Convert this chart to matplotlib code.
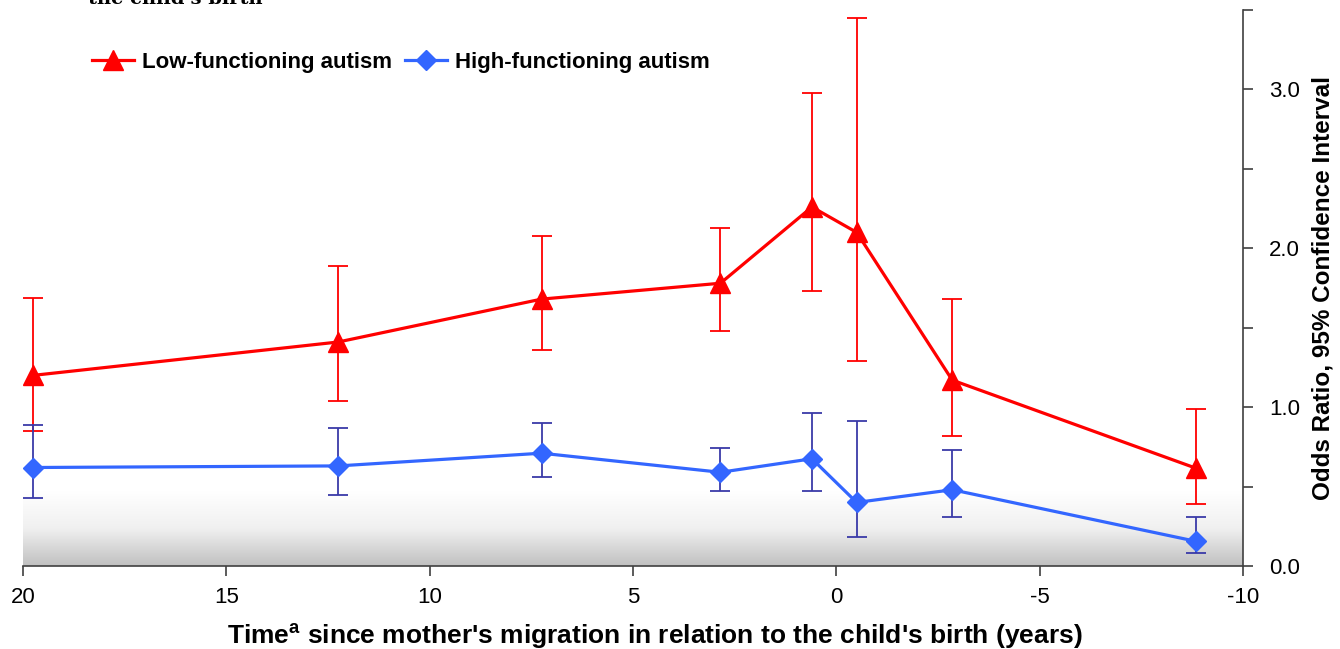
import matplotlib
matplotlib.use("Agg")
import matplotlib.pyplot as plt
import numpy as np
from matplotlib.ticker import MultipleLocator, FormatStrFormatter

plt.rcParams['font.family'] = ['Liberation Sans', 'DejaVu Sans']
plt.rcParams['mathtext.fontset'] = 'custom'
plt.rcParams['mathtext.rm'] = 'Liberation Sans'
plt.rcParams['mathtext.bf'] = 'Liberation Sans:bold'
plt.rcParams['axes.unicode_minus'] = False

# years since migration (positive = before birth)
years = [19.75, 12.25, 7.25, 2.85, 0.6, -0.5, -2.85, -8.85]

low_or = [1.20, 1.41, 1.68, 1.78, 2.26, 2.10, 1.17, 0.615]
low_lo = [0.85, 1.04, 1.36, 1.48, 1.73, 1.29, 0.82, 0.39]
low_hi = [1.69, 1.89, 2.08, 2.13, 2.98, 3.45, 1.68, 0.99]

high_or = [0.62, 0.63, 0.71, 0.59, 0.675, 0.40, 0.48, 0.155]
high_lo = [0.43, 0.45, 0.56, 0.47, 0.47, 0.18, 0.31, 0.08]
high_hi = [0.89, 0.87, 0.90, 0.74, 0.96, 0.91, 0.73, 0.31]

fig = plt.figure(figsize=(13.4, 6.49), dpi=100)
ax = fig.add_axes([0.0172, 0.1279, 0.9104, 0.8567])

# grey gradient at the bottom of the plot area
grad = np.linspace(0, 1, 256).reshape(-1, 1)
cmap = matplotlib.colors.LinearSegmentedColormap.from_list('g', ['#c0c0c0', '#f0f0f0', '#ffffff'])
ax.imshow(grad, extent=[20, -10, 0, 0.47], origin='lower', aspect='auto',
          cmap=cmap, zorder=0)

def err(v, lo, hi):
    v, lo, hi = np.array(v), np.array(lo), np.array(hi)
    return [v - lo, hi - v]

ax.errorbar(years, low_or, yerr=err(low_or, low_lo, low_hi), fmt='none',
            ecolor='#ff0000', elinewidth=1.3, capsize=7, capthick=1.3, zorder=2)
ax.errorbar(years, high_or, yerr=err(high_or, high_lo, high_hi), fmt='none',
            ecolor='#3a3aa8', elinewidth=1.3, capsize=7, capthick=1.3, zorder=2)
ax.plot(years, low_or, color='#ff0000', lw=2.3, marker='^', ms=14,
        label='Low-functioning autism', zorder=3)
ax.plot(years, high_or, color='#3366ff', lw=2.3, marker='D', ms=10,
        label='High-functioning autism', zorder=3)

ax.set_xlim(20, -10)
ax.set_ylim(0, 3.5)
ax.xaxis.set_major_locator(MultipleLocator(5))
ax.yaxis.set_major_locator(MultipleLocator(1))
ax.yaxis.set_minor_locator(MultipleLocator(0.5))
ax.yaxis.set_major_formatter(FormatStrFormatter('%.1f'))
ax.yaxis.tick_right()
ax.yaxis.set_label_position('right')
for s in ['left', 'top']:
    ax.spines[s].set_visible(False)
for s in ['right', 'bottom']:
    ax.spines[s].set_color('#404040')
    ax.spines[s].set_linewidth(1.2)
ax.tick_params(axis='both', direction='out', labelsize=16, length=7,
               color='#404040', width=1.2)
ax.tick_params(axis='y', which='minor', direction='out', length=7,
               color='#404040', width=1.2)
ax.tick_params(axis='y', pad=12)
ax.tick_params(axis='x', pad=8)

ax.set_ylabel('Odds Ratio, 95% Confidence Interval', fontsize=17.5,
              fontweight='bold', labelpad=8)
ax.set_xlabel(r"Time$^{\bf a}$ since mother's migration in relation to the child's birth (years)",
              fontsize=19, fontweight='bold', labelpad=10)
ax.xaxis.label.set_x(0.518)

ax.legend(loc='upper left', bbox_to_anchor=(0.04, 0.96), ncol=2, frameon=False,
          prop={'weight': 'bold', 'size': 16}, handlelength=1.9,
          columnspacing=0.6, handletextpad=0.35)

fig.text(0.066, 1.002, "the child's birth", family='serif', fontsize=14,
         fontweight='bold', va='center', ha='left')

fig.savefig('out.png', dpi=100)
